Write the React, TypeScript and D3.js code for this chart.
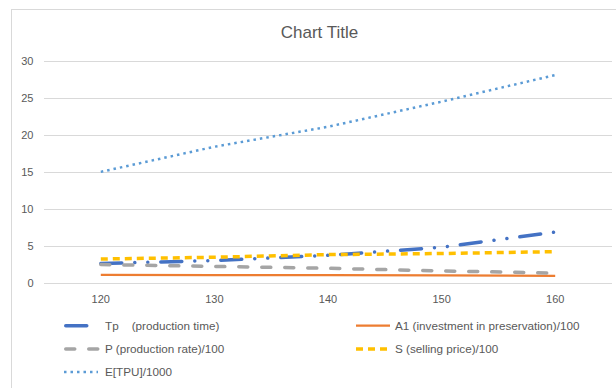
import React from "react";
import * as d3 from "d3";

const categories = [120, 130, 140, 150, 160];
const tpValues = [2.6, 3.0, 3.7, 4.8, 6.85];
const a1Values = [1.05, 1.04, 1.02, 0.98, 0.92];
const pValues = [2.45, 2.2, 1.95, 1.6, 1.3];
const sValues = [3.2, 3.45, 3.8, 3.95, 4.2];
const etpuValues = [15.0, 18.4, 21.1, 24.5, 28.1];
const yTicks = [0, 5, 10, 15, 20, 25, 30];
const title = "Chart Title";

const seriesNames = [
  "Tp    (production time)",
  "A1 (investment in preservation)/100",
  "P (production rate)/100",
  "S (selling price)/100",
  "E[TPU]/1000",
];

const W = 616;
const H = 388;
const FONT = "'Liberation Sans', Arial, sans-serif";
const TEXT = "#595959";
const GRID = "#D9D9D9";

type Style = { color: string; width: number; dash?: string; cap: "butt" | "round" };

const styles: Style[] = [
  { color: "#4472C4", width: 3.5, dash: "21 13 0.01 13 0.01 13", cap: "round" },
  { color: "#ED7D31", width: 2.25, cap: "butt" },
  { color: "#A5A5A5", width: 3.5, dash: "9 14", cap: "round" },
  { color: "#FFC000", width: 3.5, dash: "7 5", cap: "butt" },
  { color: "#5B9BD5", width: 2.5, dash: "2.5 4", cap: "butt" },
];

export default function App() {
  const x = d3.scalePoint<number>().domain(categories).range([44, 612]).padding(0.5);
  const y = d3.scaleLinear().domain([0, 30]).range([282.7, 61]);
  const seriesData = [tpValues, a1Values, pValues, sValues, etpuValues];
  const line = d3
    .line<number>()
    .x((_, i) => x(categories[i]) as number)
    .y((d) => y(d));

  const legendPos = [
    { x: 64, y: 325.7, tx: 105 },
    { x: 356, y: 325.7, tx: 395 },
    { x: 64, y: 349, tx: 105 },
    { x: 356, y: 349, tx: 395 },
    { x: 64, y: 372, tx: 105 },
  ];

  return (
    <svg
      width={W}
      height={H}
      style={{ position: "absolute", left: 0, top: 0, background: "#fff" }}
    >
      <rect x={0} y={0} width={W} height={H} fill="#fff" />
      <rect x={11.5} y={9.5} width={800} height={600} fill="#fff" stroke={GRID} strokeWidth={1} />
      <text x={319.5} y={38.3} textAnchor="middle" fontFamily={FONT} fontSize={17} fill={TEXT}>
        {title}
      </text>
      {yTicks.map((t) => (
        <g key={t}>
          <line
            x1={44}
            x2={612}
            y1={Math.round(y(t)) + 0.5}
            y2={Math.round(y(t)) + 0.5}
            stroke={GRID}
            strokeWidth={1}
          />
          <text x={33.5} y={y(t)} dy="0.35em" textAnchor="end" fontFamily={FONT} fontSize={11} fill={TEXT}>
            {t}
          </text>
        </g>
      ))}
      {categories.map((c) => (
        <text
          key={c}
          x={x(c)}
          y={299.3}
          dy="0.35em"
          textAnchor="middle"
          fontFamily={FONT}
          fontSize={11}
          fill={TEXT}
        >
          {c}
        </text>
      ))}
      {seriesData.map((vals, i) => (
        <path
          key={i}
          d={line(vals) as string}
          fill="none"
          stroke={styles[i].color}
          strokeWidth={styles[i].width}
          strokeDasharray={styles[i].dash}
          strokeLinecap={styles[i].cap}
          strokeLinejoin="round"
        />
      ))}
      {seriesNames.map((name, i) => (
        <g key={name}>
          <line
            x1={legendPos[i].x + (styles[i].cap === "round" ? 1.75 : 0)}
            x2={legendPos[i].x + 34}
            y1={legendPos[i].y}
            y2={legendPos[i].y}
            stroke={styles[i].color}
            strokeWidth={styles[i].width}
            strokeDasharray={styles[i].dash}
            strokeLinecap={styles[i].cap}
          />
          <text
            x={legendPos[i].tx}
            y={legendPos[i].y}
            dy="0.35em"
            fontFamily={FONT}
            fontSize={11.7}
            fill={TEXT}
            style={{ whiteSpace: "pre" }}
          >
            {name}
          </text>
        </g>
      ))}
    </svg>
  );
}
